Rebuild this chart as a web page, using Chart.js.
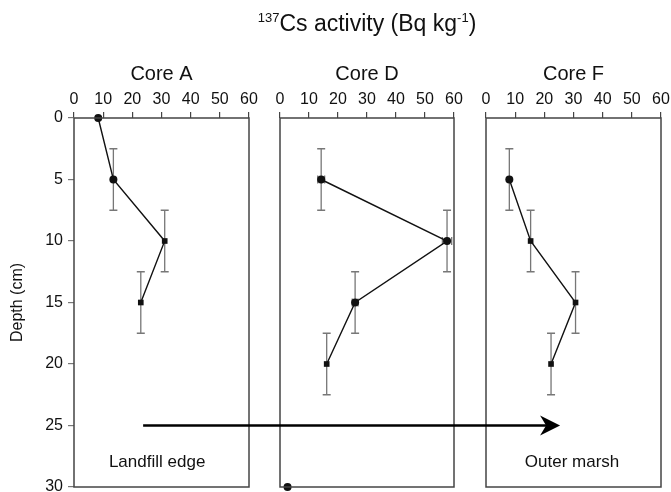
<!DOCTYPE html>
<html>
<head>
<meta charset="utf-8">
<script src="https://cdn.jsdelivr.net/npm/chart.js@4"></script>
<style>
  body { margin: 0; background: #fff; }
  #wrap { position: relative; width: 671px; height: 492px; font-family: 'Liberation Sans', Arial, sans-serif; }
  #wrap canvas { position: absolute; left: 0; top: 0; }
  #title { position: absolute; left: 217px; width: 300px; top: 10px; text-align: center; font-size: 23px; color: #111; white-space: nowrap; }
  #title sup { font-size: 13px; vertical-align: 0; position: relative; top: -9px; }
</style>
</head>
<body>
<div id="wrap">
  <canvas id="coreA" width="671" height="492"></canvas>
  <canvas id="coreD" width="671" height="492"></canvas>
  <canvas id="coreF" width="671" height="492"></canvas>
  <div id="title"><sup>137</sup>Cs activity (Bq kg<sup>-1</sup>)</div>
</div>
<script>
// Данные: глубина (см), активность 137Cs (Bq/kg), погрешности
const depthTicks = [0, 5, 10, 15, 20, 25, 30];
const activityTicks = [0, 10, 20, 30, 40, 50, 60];

const depthA = [0, 5, 10, 15];
const activityA = [8.3, 13.5, 31.1, 22.9];
const depthErrA = [0, 2.5, 2.5, 2.5];
const activityErrA = [0, 0, 0, 0];
const markersA = ['circle', 'circle', 'rect', 'rect'];

const depthD = [5, 10, 15, 20];
const activityD = [14.2, 57.6, 25.9, 16.1];
const depthErrD = [2.5, 2.5, 2.5, 2.5];
const activityErrD = [1.2, 1.6, 1.0, 0];
const markersD = ['circle', 'circle', 'circle', 'rect'];
const extraDepthD = [30];
const extraActivityD = [2.6];

const depthF = [5, 10, 15, 20];
const activityF = [8.0, 15.3, 30.7, 22.3];
const depthErrF = [2.5, 2.5, 2.5, 2.5];
const activityErrF = [0, 0, 0, 0];
const markersF = ['circle', 'rect', 'rect', 'rect'];

// Подписи внутри панелей и стрелка (в единицах данных)
const siteLabels = { A: 'Landfill edge', F: 'Outer marsh' };
const arrowDepth = 25;
const arrowStartA = 23.7;
const arrowEndF = 25.4;

const FONT = "'Liberation Sans', Arial, sans-serif";
const INK = '#111';
const BOX = '#444';

function toPoints(xs, ys) {
    return xs.map((x, i) => ({ x: x, y: ys[i] }));
}

// Рамка панели
const boxPlugin = {
    id: 'box',
    afterDraw(chart) {
        const a = chart.chartArea;
        const ctx = chart.ctx;
        ctx.save();
        ctx.strokeStyle = BOX;
        ctx.lineWidth = 1.5;
        ctx.strokeRect(a.left, a.top, a.right - a.left, a.bottom - a.top);
        ctx.restore();
    }
};

// Погрешности
const errorBarPlugin = {
    id: 'errorBars',
    beforeDatasetsDraw(chart, args, opts) {
        const xs = chart.scales.x, ys = chart.scales.y;
        const ctx = chart.ctx;
        const cap = 4;
        ctx.save();
        ctx.strokeStyle = '#777';
        ctx.lineWidth = 1.3;
        opts.x.forEach((xv, i) => {
            const px = xs.getPixelForValue(xv);
            const py = ys.getPixelForValue(opts.y[i]);
            const dy = opts.dy[i], dx = opts.dx[i];
            if (dy > 0) {
                const y1 = ys.getPixelForValue(opts.y[i] - dy);
                const y2 = ys.getPixelForValue(opts.y[i] + dy);
                ctx.beginPath();
                ctx.moveTo(px, y1); ctx.lineTo(px, y2);
                ctx.moveTo(px - cap, y1); ctx.lineTo(px + cap, y1);
                ctx.moveTo(px - cap, y2); ctx.lineTo(px + cap, y2);
                ctx.stroke();
            }
            if (dx > 0) {
                const x1 = xs.getPixelForValue(xv - dx);
                const x2 = xs.getPixelForValue(xv + dx);
                ctx.beginPath();
                ctx.moveTo(x1, py); ctx.lineTo(x2, py);
                ctx.moveTo(x1, py - cap); ctx.lineTo(x1, py + cap);
                ctx.moveTo(x2, py - cap); ctx.lineTo(x2, py + cap);
                ctx.stroke();
            }
        });
        ctx.restore();
    }
};

// Подпись участка
const sitePlugin = {
    id: 'site',
    afterDraw(chart, args, opts) {
        if (!opts.text) return;
        const ctx = chart.ctx;
        ctx.save();
        ctx.font = '17px ' + FONT;
        ctx.fillStyle = INK;
        ctx.textAlign = 'center';
        ctx.textBaseline = 'middle';
        ctx.fillText(opts.text, chart.scales.x.getPixelForValue(opts.x), chart.scales.y.getPixelForValue(opts.y));
        ctx.restore();
    }
};

function makeCore(id, title, xs, ys, dxs, dys, markers, opt) {
    const datasets = [{
        data: toPoints(xs, ys),
        borderColor: INK,
        backgroundColor: INK,
        borderWidth: 1.4,
        pointStyle: markers,
        pointRadius: 4,
        pointBorderWidth: 0,
        tension: 0,
        clip: false
    }];
    if (opt.extra) {
        datasets.push({
            data: toPoints(opt.extra.x, opt.extra.y),
            showLine: false,
            backgroundColor: INK,
            borderColor: INK,
            pointRadius: 4,
            pointBorderWidth: 0,
            clip: false
        });
    }
    return new Chart(document.getElementById(id), {
        type: 'line',
        data: { datasets: datasets },
        plugins: [boxPlugin, errorBarPlugin, sitePlugin].concat(opt.plugins || []),
        options: {
            responsive: false,
            animation: false,
            events: [],
            layout: { padding: opt.padding },
            plugins: {
                legend: { display: false },
                tooltip: { enabled: false },
                errorBars: { x: xs, y: ys, dx: dxs, dy: dys },
                site: opt.site || {}
            },
            scales: {
                x: {
                    type: 'linear',
                    position: 'top',
                    min: 0, max: 60,
                    afterBuildTicks: s => { s.ticks = activityTicks.map(v => ({ value: v })); },
                    afterFit: s => { s.height = 68; s.paddingLeft = 0; s.paddingRight = 0; },
                    grid: { drawOnChartArea: false, drawTicks: true, tickLength: 6, color: BOX, lineWidth: 1.2 },
                    border: { display: false },
                    ticks: { color: INK, font: { family: FONT, size: 16 }, padding: 3, maxRotation: 0, autoSkip: false },
                    title: { display: true, text: title, color: INK, font: { family: FONT, size: 20 }, padding: { top: 12, bottom: 0 } }
                },
                y: {
                    type: 'linear',
                    reverse: true,
                    min: 0, max: 30,
                    display: opt.showY,
                    afterBuildTicks: s => { s.ticks = depthTicks.map(v => ({ value: v })); },
                    afterFit: s => {
                        s.width = opt.showY ? 74 : 0;
                        s.paddingTop = 0; s.paddingBottom = 0;
                    },
                    grid: { drawOnChartArea: false, drawTicks: true, tickLength: 6, color: '#777', lineWidth: 1.2 },
                    border: { display: false },
                    ticks: { color: INK, font: { family: FONT, size: 16 }, padding: 5, autoSkip: false },
                    title: { display: true, text: 'Depth (cm)', color: INK, font: { family: FONT, size: 16 }, padding: { top: 8, bottom: 0 } }
                }
            }
        }
    });
}

const chartA = makeCore('coreA', 'Core A', activityA, depthA, activityErrA, depthErrA, markersA, {
    showY: true,
    padding: { left: 0, top: 50, right: 422, bottom: 5 },
    site: { text: siteLabels.A, x: 28.5, y: 28 }
});

const chartD = makeCore('coreD', 'Core D', activityD, depthD, activityErrD, depthErrD, markersD, {
    showY: false,
    padding: { left: 280, top: 50, right: 217, bottom: 5 },
    extra: { x: extraActivityD, y: extraDepthD }
});

// Стрелка от Core A к Core F
const arrowPlugin = {
    id: 'arrow',
    afterDraw(chart) {
        const ctx = chart.ctx;
        const x1 = chartA.scales.x.getPixelForValue(arrowStartA);
        const x2 = chart.scales.x.getPixelForValue(arrowEndF);
        const y = chart.scales.y.getPixelForValue(arrowDepth);
        ctx.save();
        ctx.strokeStyle = '#000';
        ctx.fillStyle = '#000';
        ctx.lineWidth = 2.5;
        ctx.beginPath();
        ctx.moveTo(x1, y);
        ctx.lineTo(x2 - 10, y);
        ctx.stroke();
        ctx.beginPath();
        ctx.moveTo(x2, y);
        ctx.lineTo(x2 - 20, y - 10);
        ctx.lineTo(x2 - 14, y);
        ctx.lineTo(x2 - 20, y + 10);
        ctx.closePath();
        ctx.fill();
        ctx.restore();
    }
};

const chartF = makeCore('coreF', 'Core F', activityF, depthF, activityErrF, depthErrF, markersF, {
    showY: false,
    padding: { left: 486, top: 50, right: 10, bottom: 5 },
    site: { text: siteLabels.F, x: 29.5, y: 28 },
    plugins: [arrowPlugin]
});
</script>
</body>
</html>
